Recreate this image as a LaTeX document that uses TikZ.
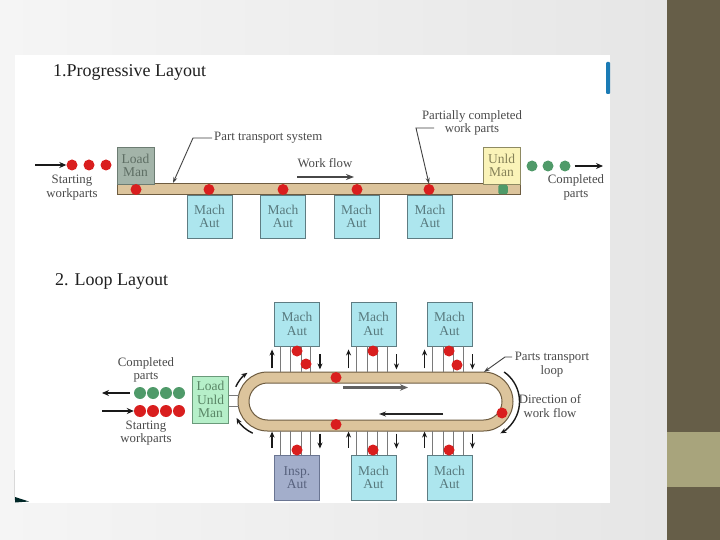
\documentclass[tikz,border=0pt]{standalone}
\usepackage{fontspec}
\setmainfont{Liberation Serif}
\usetikzlibrary{arrows.meta}
\definecolor{bgL}{HTML}{F5F5F5}
\definecolor{bgR}{HTML}{E6E6E6}
\definecolor{barDark}{HTML}{665E48}
\definecolor{barLight}{HTML}{A8A47C}
\definecolor{blueBar}{HTML}{1B7BB5}
\definecolor{convTan}{HTML}{DCC49C}
\definecolor{tanEdge}{HTML}{6E5C40}
\definecolor{cyanBox}{HTML}{ADE6EE}
\definecolor{cyanEdge}{HTML}{5E7C82}
\definecolor{cyanTxt}{HTML}{587A7E}
\definecolor{loadTop}{HTML}{A3B4A9}
\definecolor{loadTopEdge}{HTML}{6C7C72}
\definecolor{loadTopTxt}{HTML}{5E6E64}
\definecolor{unldBox}{HTML}{FAF3B8}
\definecolor{unldEdge}{HTML}{8E8A62}
\definecolor{unldTxt}{HTML}{858158}
\definecolor{luBox}{HTML}{B6EFC9}
\definecolor{luEdge}{HTML}{6A9A7A}
\definecolor{luTxt}{HTML}{5A8666}
\definecolor{inspBox}{HTML}{A3AECB}
\definecolor{inspEdge}{HTML}{6A7592}
\definecolor{inspTxt}{HTML}{58627E}
\definecolor{partRed}{HTML}{D91E1E}
\definecolor{partGreen}{HTML}{4F9A69}
\definecolor{txtGray}{HTML}{4A4A4A}
\definecolor{lineGray}{HTML}{7A7A7A}
\begin{document}
\begin{tikzpicture}[x=1pt,y=-1pt,
  lbl/.style={font=\fontsize{12.8}{13.5}\selectfont, text=txtGray, align=center, inner sep=0pt},
  ttl/.style={font=\fontsize{18}{20}\selectfont, text=black!88, anchor=west, inner sep=0pt},
  boxbase/.style={rectangle, line width=0.9pt, align=center, inner sep=0pt, font=\fontsize{13.5}{13.5}\selectfont},
  machbox/.style={boxbase, fill=cyanBox, draw=cyanEdge, text=cyanTxt, minimum width=45pt},
  ltbox/.style={boxbase, fill=loadTop, draw=loadTopEdge, text=loadTopTxt, minimum width=37pt, minimum height=37pt},
  ulbox/.style={boxbase, fill=unldBox, draw=unldEdge, text=unldTxt, minimum width=37pt, minimum height=37pt},
  lubox/.style={boxbase, fill=luBox, draw=luEdge, text=luTxt, minimum width=36pt, minimum height=47pt, font=\fontsize{13.5}{13.8}\selectfont},
  inspbox/.style={boxbase, fill=inspBox, draw=inspEdge, text=inspTxt, minimum width=45pt},
  rdot/.style={circle, fill=partRed, minimum size=11pt, inner sep=0pt},
  gdot/.style={circle, fill=partGreen, minimum size=11pt, inner sep=0pt},
  flow/.style={-{Stealth[length=7pt,width=6pt]}, line width=1.5pt, black!90},
  small/.style={-{Stealth[length=6pt,width=5pt]}, line width=1.4pt, black!90},
  leader/.style={-{Stealth[length=6pt,width=4pt]}, line width=0.9pt, black!75},
  chan/.style={line width=0.8pt, lineGray}]

% ---------- background ----------
\useasboundingbox (0,0) rectangle (720,540);
\shade[left color=bgL, right color=bgR] (0,0) rectangle (667,540);
\fill[barDark] (667,0) rectangle (720,540);
\fill[barLight] (667,432) rectangle (720,487);
\fill[white] (15,55) rectangle (610,503);
\fill[blueBar, rounded corners=1pt] (606,62) rectangle (610,94);
\draw[black!15, line width=0.5pt] (14.5,470) -- (14.5,500);
\fill[black!70!teal] (15,497) -- (29,501.5) -- (15,502.5) -- cycle;

% ---------- 1. Progressive layout ----------
\node[ttl] (t1) at (53,72) {1.Progressive Layout};

\node[rectangle, fill=convTan, draw=tanEdge, line width=1pt, minimum width=403pt, minimum height=11pt, inner sep=0pt] (conv) at (318.5,189.5) {};
\node[ltbox] (lm) at (135.5,165.5) {Load\\Man};
\node[ulbox] (um) at (501.5,165.5) {Unld\\Man};
\node[machbox, minimum height=43pt] (m1) at (209.5,216.5) {Mach\\Aut};
\node[machbox, minimum height=43pt] (m2) at (283,216.5) {Mach\\Aut};
\node[machbox, minimum height=43pt] (m3) at (356.5,216.5) {Mach\\Aut};
\node[machbox, minimum height=43pt] (m4) at (430,216.5) {Mach\\Aut};

\node[rdot] (s1) at (72,165) {};
\node[rdot] (s2) at (89,165) {};
\node[rdot] (s3) at (106,165) {};
\node[rdot] (c1) at (136,189.5) {};
\node[rdot] (c2) at (209,189.5) {};
\node[rdot] (c3) at (283,189.5) {};
\node[rdot] (c4) at (357,189.5) {};
\node[rdot] (c5) at (429,189.5) {};
\node[rectangle, rounded corners=2pt, fill=partGreen, minimum size=9.5pt, inner sep=0pt] (c6) at (503,189.5) {};
\node[gdot] (g1) at (532,166) {};
\node[gdot] (g2) at (548,166) {};
\node[gdot] (g3) at (565,166) {};

\coordinate (ia) at (35,165);
\draw[flow] (ia) -- (s1.west);
\coordinate (oa) at (603,166);
\draw[flow] (g3.east) ++(4,0) -- (oa);

\node[lbl] (sw1) at (72,187.5) {Starting\\workparts};
\node[lbl] (cp1) at (576,187.5) {Completed\\parts};
\node[lbl, anchor=west] (pts) at (214,138) {Part transport system};
\node[lbl] (wf) at (325,163) {Work flow};
\node[lbl] (pcw) at (472,123) {Partially completed\\work parts};

\coordinate (l1a) at (212,138);
\coordinate (l1b) at (193,138);
\coordinate (l1c) at (173,183);
\draw[leader] (l1a) -- (l1b) -- (l1c);
\coordinate (l2a) at (434,128);
\coordinate (l2b) at (416,128);
\draw[leader] (l2a) -- (l2b) -- (c5.north);
\coordinate (wfa) at (297,177);
\coordinate (wfb) at (354,177);
\draw[-{Stealth[length=8pt,width=6pt]}, line width=2.2pt, black!72] (wfa) -- (wfb);

% ---------- 2. Loop layout ----------
\node[ttl] (t2) at (55,281) {2. Loop Layout};

\draw[fill=convTan, draw=tanEdge, line width=1pt, rounded corners=29.5pt] (238,372) rectangle (513,431);
\draw[fill=white, draw=tanEdge, line width=1pt, rounded corners=18.5pt] (249,383) rectangle (502,420);
\coordinate (lc) at (267.5,401.5);
\coordinate (rc) at (483.5,401.5);

\node[machbox, minimum height=44pt] (tb1) at (297,324) {Mach\\Aut};
\node[machbox, minimum height=44pt] (tb2) at (373.5,324) {Mach\\Aut};
\node[machbox, minimum height=44pt] (tb3) at (449.5,324) {Mach\\Aut};
\node[inspbox, minimum height=45pt] (bb1) at (297,477.5) {Insp.\\Aut};
\node[machbox, minimum height=45pt] (bb2) at (373.5,477.5) {Mach\\Aut};
\node[machbox, minimum height=45pt] (bb3) at (449.5,477.5) {Mach\\Aut};

\foreach \b in {tb1,tb2,tb3} {
  \foreach \dx in {6,16.5,27,36.5} \draw[chan] (\b.south west) ++(\dx,0) -- ++(0,26);
  \draw[small] (\b.south west) ++(-2,22) -- ++(0,-19);
  \draw[small] (\b.south east) ++(0,8) -- ++(0,15);
}
\foreach \b in {bb1,bb2,bb3} {
  \foreach \dx in {6,16.5,27,36.5} \draw[chan] (\b.north west) ++(\dx,0) -- ++(0,-24);
  \draw[small] (\b.north west) ++(-2,-7) -- ++(0,-16);
  \draw[small] (\b.north east) ++(0,-21) -- ++(0,15);
}

\node[rdot] (p1) at (297,351) {};
\node[rdot] (p2) at (306,364) {};
\node[rdot] (p3) at (373,351) {};
\node[rdot] (p4) at (449,351) {};
\node[rdot] (p5) at (457,365) {};
\node[rdot] (p6) at (297,450) {};
\node[rdot] (p7) at (373,450) {};
\node[rdot] (p8) at (449,450) {};
\node[rdot] (p9) at (336,377.5) {};
\node[rdot] (p10) at (336,424.5) {};
\node[rdot] (p11) at (502,413) {};

\coordinate (ta) at (343,387.5);
\coordinate (tb) at (408,387.5);
\draw[-{Stealth[length=8pt,width=6.5pt]}, line width=3pt, black!62] (ta) -- (tb);
\coordinate (ba) at (443,414);
\coordinate (bb) at (379,414);
\draw[-{Stealth[length=7pt,width=5pt]}, line width=1.5pt, black!85] (ba) -- (bb);

\draw[small] (rc) ++(-55:36) arc[start angle=-55, end angle=62, radius=36];
\draw[small] (lc) ++(-155:35) arc[start angle=-155, end angle=-125, radius=35];
\draw[small] (lc) ++(115:35) arc[start angle=115, end angle=152, radius=35];

\node[lubox] (lu) at (210.5,399.5) {Load\\Unld\\Man};
\draw[chan] (lu.east) ++(0,-4.5) -- ++(10.5,0);
\draw[chan] (lu.east) ++(0,6.5) -- ++(10.5,0);

\node[gdot, minimum size=12pt] (q1) at (140,393) {};
\node[gdot, minimum size=12pt] (q2) at (153,393) {};
\node[gdot, minimum size=12pt] (q3) at (166,393) {};
\node[gdot, minimum size=12pt] (q4) at (179,393) {};
\node[rdot, minimum size=12pt] (r1) at (140,411) {};
\node[rdot, minimum size=12pt] (r2) at (153,411) {};
\node[rdot, minimum size=12pt] (r3) at (166,411) {};
\node[rdot, minimum size=12pt] (r4) at (179,411) {};

\coordinate (oc) at (102,393);
\draw[flow] (q1.west) ++(-4,0) -- (oc);
\coordinate (ic) at (102,411);
\draw[flow] (ic) -- (r1.west);

\node[lbl] (cp2) at (146,370) {Completed\\parts};
\node[lbl] (sw2) at (146,433) {Starting\\workparts};
\node[lbl] (ptl) at (552,364.5) {Parts transport\\loop};
\node[lbl] (dwf) at (550,406) {Direction of\\work flow};

\coordinate (l3a) at (512,357);
\coordinate (l3b) at (505,357);
\coordinate (l3c) at (484,372);
\draw[leader] (l3a) -- (l3b) -- (l3c);
\end{tikzpicture}
\end{document}
